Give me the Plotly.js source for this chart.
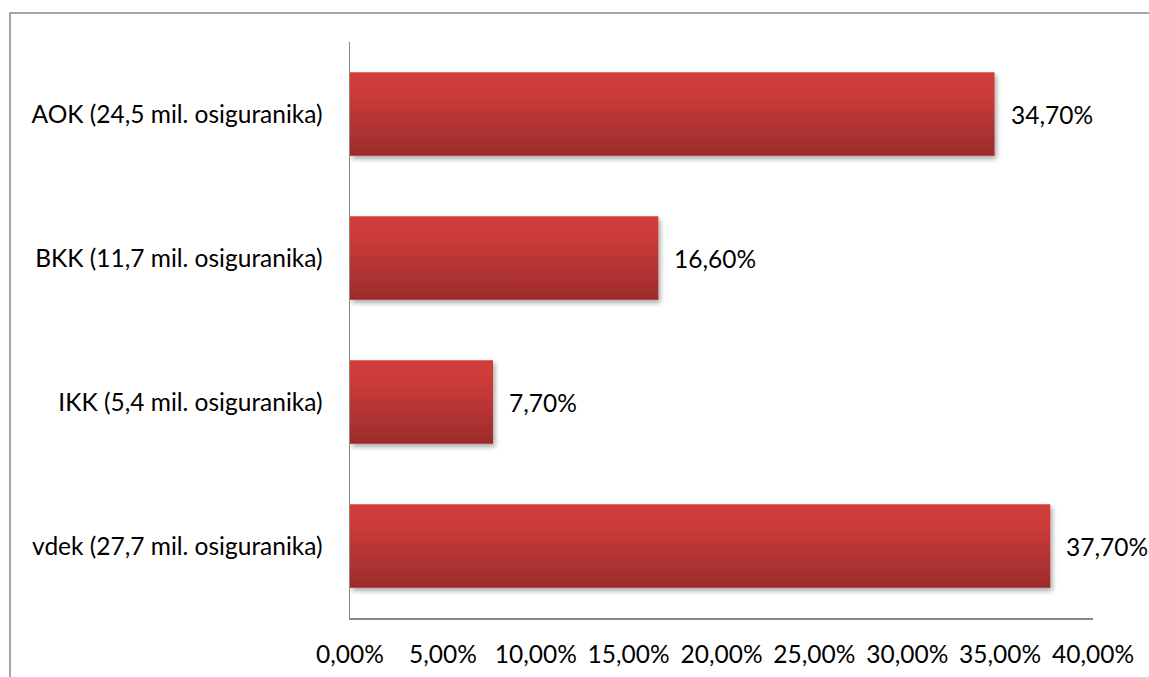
<!DOCTYPE html>
<html>
<head>
<meta charset="utf-8">
<script src="https://cdn.plot.ly/plotly-3.0.1.min.js"></script>
<style>
html,body{margin:0;padding:0;background:#fff;}
#chart{width:1149px;height:677px;}
</style>
</head>
<body>
<div id="chart"></div>
<script>
const categories = ["AOK (24,5 mil. osiguranika)", "BKK (11,7 mil. osiguranika)", "IKK (5,4 mil. osiguranika)", "vdek (27,7 mil. osiguranika)"];
const shares = [0.347, 0.166, 0.077, 0.377];
const tickValues = [0, 0.05, 0.10, 0.15, 0.20, 0.25, 0.30, 0.35, 0.40];

const fmt = v => (v * 100).toFixed(2).replace('.', ',') + '%';
const FONT = "Lato, 'Open Sans', sans-serif";
const FS = 24.5;

const trace = {
  type: 'bar',
  orientation: 'h',
  y: categories,
  x: shares,
  marker: {color: '#b83434', line: {width: 0}},
  hoverinfo: 'none'
};

const annotations = categories.map((c, i) => ({
  x: shares[i], y: c, xref: 'x', yref: 'y',
  text: fmt(shares[i]), showarrow: false,
  xanchor: 'left', xshift: 14,
  font: {family: FONT, size: FS, color: '#000'}
}));

const layout = {
  width: 1149, height: 677,
  margin: {l: 350, r: 56, t: 42, b: 59, pad: 0},
  paper_bgcolor: '#fff', plot_bgcolor: '#fff',
  showlegend: false,
  bargap: 0.42,
  separators: ', ',
  font: {family: FONT, size: FS, color: '#000'},
  xaxis: {
    range: [0, 0.40], tickvals: tickValues,
    ticktext: tickValues.map(fmt),
    showgrid: false, zeroline: false,
    showline: true, linecolor: '#888', linewidth: 1.5,
    ticks: '', ticklabelstandoff: 14,
    tickfont: {family: FONT, size: FS, color: '#000'},
    fixedrange: true
  },
  yaxis: {
    type: 'category', categoryorder: 'array', categoryarray: categories.slice().reverse(),
    showgrid: false, zeroline: false,
    showline: true, linecolor: '#888', linewidth: 1.5,
    ticks: '', ticklabelstandoff: 21,
    tickfont: {family: FONT, size: FS, color: '#000'},
    fixedrange: true
  },
  annotations: annotations,
  shapes: [{
    type: 'rect', xref: 'paper', yref: 'paper',
    x0: (10 - 350) / 743, x1: 1.2, y0: -0.3, y1: 1 + (42 - 13) / 576,
    line: {color: '#888', width: 1.5}, fillcolor: 'rgba(0,0,0,0)', layer: 'below'
  }]
};

Plotly.newPlot('chart', [trace], layout, {displayModeBar: false, staticPlot: true}).then(gd => {
  const svg = gd.querySelector('svg.main-svg');
  const ns = 'http://www.w3.org/2000/svg';
  let defs = svg.querySelector('defs');
  if (!defs) { defs = document.createElementNS(ns, 'defs'); svg.insertBefore(defs, svg.firstChild); }
  const grad = document.createElementNS(ns, 'linearGradient');
  grad.setAttribute('id', 'barGrad');
  grad.setAttribute('x1', '0'); grad.setAttribute('y1', '0');
  grad.setAttribute('x2', '0'); grad.setAttribute('y2', '1');
  [['0', '#d23e3b'], ['0.3', '#c93a38'], ['1', '#9c2b2b']].forEach(([o, c]) => {
    const s = document.createElementNS(ns, 'stop');
    s.setAttribute('offset', o); s.setAttribute('stop-color', c);
    grad.appendChild(s);
  });
  defs.appendChild(grad);
  const filt = document.createElementNS(ns, 'filter');
  filt.setAttribute('id', 'barShadow');
  filt.setAttribute('x', '-5%'); filt.setAttribute('y', '-20%');
  filt.setAttribute('width', '115%'); filt.setAttribute('height', '150%');
  const ds = document.createElementNS(ns, 'feDropShadow');
  ds.setAttribute('dx', '2'); ds.setAttribute('dy', '3');
  ds.setAttribute('stdDeviation', '2.5');
  ds.setAttribute('flood-color', '#000'); ds.setAttribute('flood-opacity', '0.35');
  filt.appendChild(ds);
  defs.appendChild(filt);
  gd.querySelectorAll('.bars .point path').forEach(p => {
    p.style.fill = 'url(#barGrad)';
    p.setAttribute('filter', 'url(#barShadow)');
  });
});
</script>
</body>
</html>
